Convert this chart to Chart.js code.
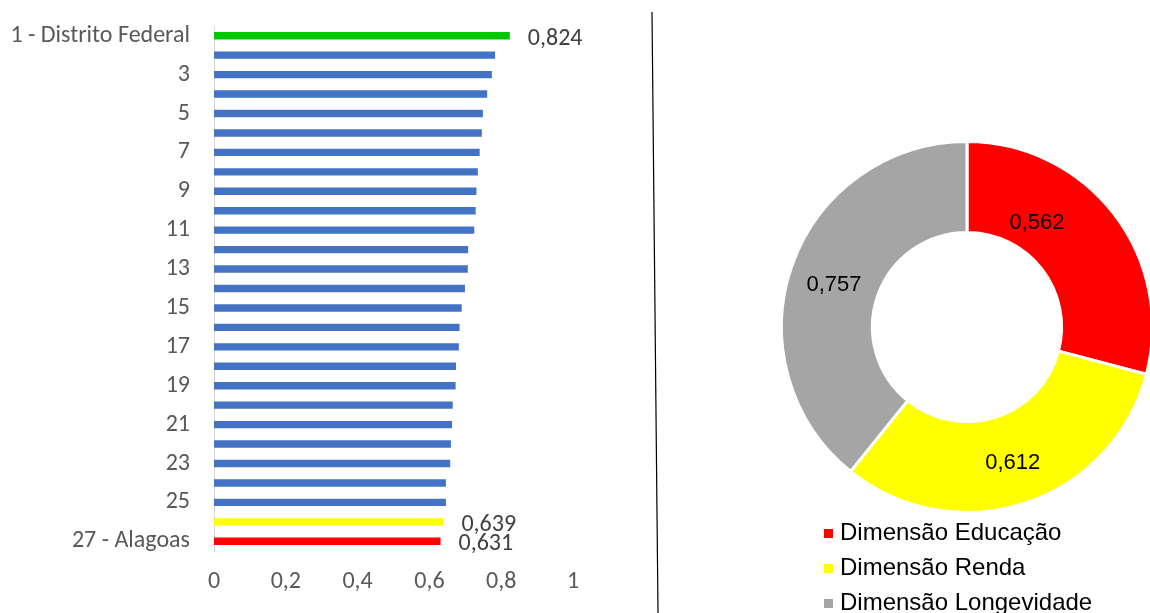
<!DOCTYPE html>
<html>
<head>
<meta charset="utf-8">
<script src="https://cdn.jsdelivr.net/npm/chart.js@4"></script>
<style>
  html, body { margin: 0; padding: 0; background: #fff; overflow: hidden; }
  body { width: 1150px; height: 613px; position: relative; }
  #barBox { position: absolute; left: 0; top: 0; width: 640px; height: 613px; }
  #pieBox { position: absolute; left: 767px; top: 127px; width: 400px; height: 400px; }
  #sep { position: absolute; left: 0; top: 0; }
  #legend { position: absolute; left: 824px; top: 514px; font-family: "Liberation Sans", Arial, sans-serif; font-size: 24px; color: #000; }
  #legend div { height: 35px; line-height: 35px; white-space: nowrap; }
  #legend span { display: inline-block; width: 9px; height: 9px; margin-right: 7px; vertical-align: 2px; }
</style>
</head>
<body>
<div id="barBox"><canvas id="barChart"></canvas></div>
<svg id="sep" width="1150" height="613"><line x1="652" y1="12" x2="658" y2="613" stroke="#000" stroke-width="1.2"/></svg>
<div id="pieBox"><canvas id="pieChart"></canvas></div>
<div id="legend"></div>
<script>
// IDHM 2010 por UF, ordenado
const ranks = ['1 - Distrito Federal', '2', '3', '4', '5', '6', '7', '8', '9', '10', '11', '12', '13', '14',
    '15', '16', '17', '18', '19', '20', '21', '22', '23', '24', '25', '26', '27 - Alagoas'];
const idhm = [0.824, 0.783, 0.774, 0.761, 0.749, 0.746, 0.740, 0.735, 0.731, 0.729, 0.725, 0.708, 0.707, 0.699,
    0.690, 0.684, 0.682, 0.674, 0.673, 0.665, 0.663, 0.660, 0.658, 0.646, 0.646, 0.639, 0.631];
const xTicks = [0, 0.2, 0.4, 0.6, 0.8, 1];
const labeledBars = [0, 25, 26];

const dimensions = ['Dimensão Educação', 'Dimensão Renda', 'Dimensão Longevidade'];
const dimValues = [0.562, 0.612, 0.757];
const dimColors = ['#ff0000', '#ffff00', '#a5a5a5'];

const fmt = (v, d) => (d === undefined ? String(Math.round(v * 10) / 10) : v.toFixed(d)).replace('.', ',');

const calibri = 'Carlito, Lato, sans-serif';

const barColors = idhm.map((v, i) => {
    if (i === 0) return '#00c800';
    if (i === idhm.length - 2) return '#ffff00';
    if (i === idhm.length - 1) return '#ff0000';
    return '#4472c4';
});

const barValueLabels = {
    id: 'barValueLabels',
    afterDatasetsDraw(chart) {
        const ctx = chart.ctx;
        const meta = chart.getDatasetMeta(0);
        ctx.save();
        ctx.font = '24px ' + calibri;
        ctx.fillStyle = '#404040';
        ctx.textAlign = 'left';
        ctx.textBaseline = 'middle';
        labeledBars.forEach(i => {
            const bar = meta.data[i];
            ctx.fillText(fmt(idhm[i], 3), bar.x + 18, bar.y + 3);
        });
        ctx.restore();
    }
};

new Chart(document.getElementById('barChart'), {
    type: 'bar',
    data: {
        labels: ranks,
        datasets: [{
            data: idhm,
            backgroundColor: barColors,
            barPercentage: 1,
            categoryPercentage: 0.38
        }]
    },
    options: {
        indexAxis: 'y',
        responsive: true,
        maintainAspectRatio: false,
        animation: false,
        layout: { padding: { top: 26, right: 67, bottom: 0, left: 0 } },
        plugins: { legend: { display: false }, tooltip: { enabled: false } },
        scales: {
            x: {
                min: 0,
                max: 1,
                afterBuildTicks: s => { s.ticks = xTicks.map(v => ({ value: v })); },
                grid: { display: false },
                border: { display: false },
                ticks: {
                    padding: 9,
                    color: '#595959',
                    font: { family: calibri, size: 24 },
                    callback: v => fmt(v)
                },
                afterFit: s => { s.height = 62; }
            },
            y: {
                grid: { display: false },
                border: { display: true, color: '#d9d9d9', width: 1 },
                ticks: {
                    autoSkip: false,
                    padding: 16,
                    color: '#595959',
                    font: { family: calibri, size: 24 },
                    callback: (v, i) => (i % 2 === 0 ? ranks[i] : '')
                },
                afterFit: s => {
                    s.width = 214;
                    s.paddingTop = 0;
                    s.paddingBottom = 0;
                }
            }
        }
    },
    plugins: [barValueLabels]
});

const pieValueLabels = {
    id: 'pieValueLabels',
    afterDatasetsDraw(chart) {
        const ctx = chart.ctx;
        const meta = chart.getDatasetMeta(0);
        const shift = [[-41, -19], [2, 3], [-1, 5]];
        ctx.save();
        ctx.font = '22px "Liberation Sans", Arial, sans-serif';
        ctx.fillStyle = '#000';
        ctx.textAlign = 'center';
        ctx.textBaseline = 'middle';
        meta.data.forEach((arc, i) => {
            const p = arc.tooltipPosition();
            ctx.fillText(fmt(dimValues[i], 3), p.x + shift[i][0], p.y + shift[i][1]);
        });
        ctx.restore();
    }
};

new Chart(document.getElementById('pieChart'), {
    type: 'doughnut',
    data: {
        labels: dimensions,
        datasets: [{
            data: dimValues,
            backgroundColor: dimColors,
            borderColor: '#fff',
            borderWidth: 3
        }]
    },
    options: {
        responsive: true,
        maintainAspectRatio: false,
        animation: false,
        cutout: '51%',
        layout: { padding: 13 },
        plugins: { legend: { display: false }, tooltip: { enabled: false } }
    },
    plugins: [pieValueLabels]
});

document.getElementById('legend').innerHTML = dimensions.map((d, i) =>
    `<div><span style="background:${dimColors[i]}"></span>${d}</div>`).join('');
</script>
</body>
</html>
